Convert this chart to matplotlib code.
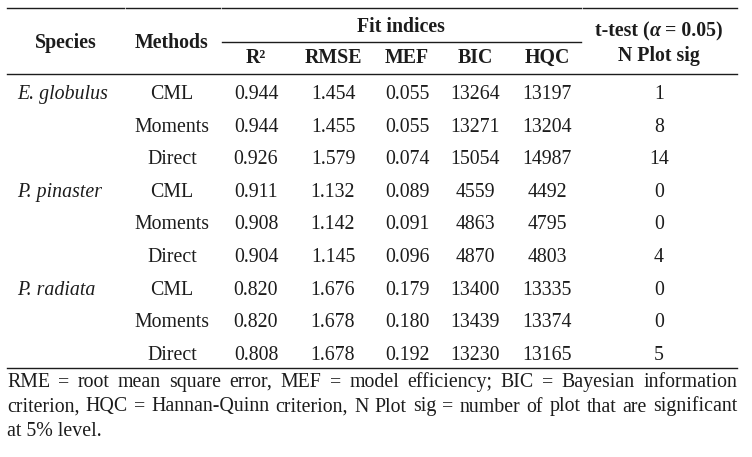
import matplotlib
matplotlib.use('Agg')
import matplotlib.pyplot as plt

plt.rcParams.update({
    'font.family': ['Liberation Serif', 'DejaVu Serif'],
    'font.size': 14.3,
    'text.color': '#1c1c1c',
})

# ── table data ──────────────────────────────────────────────────────────────
species = ["E. globulus", "P. pinaster", "P. radiata"]
methods = ["CML", "Moments", "Direct"]
r2   = [0.944, 0.944, 0.926, 0.911, 0.908, 0.904, 0.820, 0.820, 0.808]
rmse = [1.454, 1.455, 1.579, 1.132, 1.142, 1.145, 1.676, 1.678, 1.678]
mef  = [0.055, 0.055, 0.074, 0.089, 0.091, 0.096, 0.179, 0.180, 0.192]
bic  = [13264, 13271, 15054, 4559, 4863, 4870, 13400, 13439, 13230]
hqc  = [13197, 13204, 14987, 4492, 4795, 4803, 13335, 13374, 13165]
nsig = [1, 8, 14, 0, 0, 4, 0, 0, 5]
index_heads = ["R²", "RMSE", "MEF", "BIC", "HQC"]
footnote = [
    "RME = root mean square error, MEF = model efficiency; BIC = Bayesian information",
    "criterion, HQC = Hannan-Quinn criterion, N Plot sig = number of plot that are significant",
    "at 5% level.",
]

W, H = 752, 457
fig = plt.figure(figsize=(W/100, H/100), dpi=100)
ax = fig.add_axes([0, 0, 1, 1])
ax.set_xlim(0, W); ax.set_ylim(H, 0)
ax.axis('off')
renderer = fig.canvas.get_renderer()

def width_of(t):
    return t.get_window_extent(renderer).width

col_x = [256, 333, 407, 475, 547]
meth_x, sp_x, sig_x = 172, 17, 659
lw = 1.0
rule_c = '#1c1c1c'

# ── rules ───────────────────────────────────────────────────────────────────
for x0, x1 in [(7, 124), (126, 220), (222, 581), (583, 737)]:
    ax.plot([x0, x1], [8, 8], color=rule_c, lw=lw)
ax.plot([222, 581], [42, 42], color=rule_c, lw=lw)
ax.plot([7, 737], [74, 74], color=rule_c, lw=lw)
ax.plot([7, 737], [368, 368], color=rule_c, lw=lw)

# ── header ──────────────────────────────────────────────────────────────────
ax.text(66, 48, "Species", ha='center', va='baseline', weight='bold')
ax.text(meth_x, 48, "Methods", ha='center', va='baseline', weight='bold')
ax.text(401, 32, "Fit indices", ha='center', va='baseline', weight='bold')
for x, lab in zip(col_x, index_heads):
    ax.text(x, 63, lab, ha='center', va='baseline', weight='bold')

# t-test header with italic alpha
parts = [("t-test (", 'normal'), ("α", 'italic'), (" = 0.05)", 'normal')]
txts = [ax.text(0, 36, s, va='baseline', weight='bold', style=st) for s, st in parts]
ws = [width_of(t) for t in txts]
x = sig_x - sum(ws) / 2
for t, w in zip(txts, ws):
    t.set_x(x); x += w
ax.text(sig_x, 61, "N Plot sig", ha='center', va='baseline', weight='bold')

# ── body ────────────────────────────────────────────────────────────────────
base0, step = 99, 32.6
for i in range(len(r2)):
    y = base0 + i * step
    if i % 3 == 0:
        ax.text(sp_x, y, species[i // 3], ha='left', va='baseline', style='italic')
    ax.text(meth_x, y, methods[i % 3], ha='center', va='baseline')
    vals = [f"{r2[i]:.3f}", f"{rmse[i]:.3f}", f"{mef[i]:.3f}", str(bic[i]), str(hqc[i])]
    for xc, v in zip(col_x, vals):
        ax.text(xc, y, v, ha='center', va='baseline')
    ax.text(sig_x, y, str(nsig[i]), ha='center', va='baseline')

# ── justified footnote ──────────────────────────────────────────────────────
# words placed one by one; a line that would not fit is set a touch smaller
fx0, fx1 = 7, 737
min_gap = 3.0
for k, line in enumerate(footnote):
    y = 387 + k * 24.5
    if k == len(footnote) - 1:
        ax.text(fx0, y, line, ha='left', va='baseline')
        continue
    words = line.split(" ")
    wt = [ax.text(0, y, w_, ha='left', va='baseline') for w_ in words]
    wws = [width_of(t) for t in wt]
    room = fx1 - fx0 - min_gap * (len(words) - 1)
    if sum(wws) > room:
        f = room / sum(wws)
        for t in wt:
            t.set_fontsize(plt.rcParams['font.size'] * f)
        wws = [width_of(t) for t in wt]
    gap = (fx1 - fx0 - sum(wws)) / (len(words) - 1)
    x = fx0
    for t, w in zip(wt, wws):
        t.set_x(x); x += w + gap

fig.savefig("out.png", dpi=100)
